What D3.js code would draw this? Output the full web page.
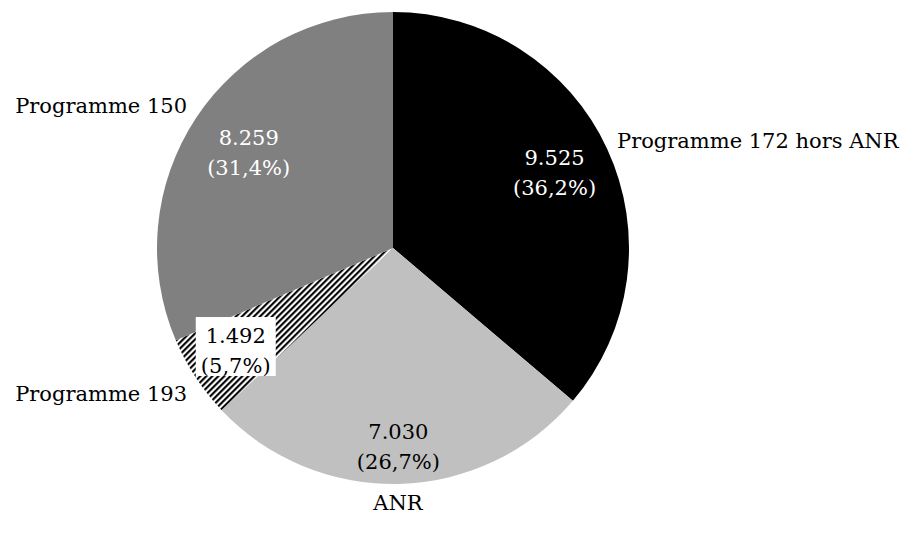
<html>
<head>
<title>pie</title>
<script src="https://cdnjs.cloudflare.com/ajax/libs/d3/7.8.5/d3.min.js"></script>
<style>
  body { margin: 0; background: #fff; }
  text { font-family: "DejaVu Serif", serif; font-size: 21px; }
</style>
</head>
<body>
<div id="vis_container"></div>
<script>

    // data (clockwise from 12 o'clock)
    var categories = ["Programme 172 hors ANR", "ANR", "Programme 193", "Programme 150"];
    var values = [9525, 7030, 1492, 8259];
    var valueLabels = ["9.525", "7.030", "1.492", "8.259"];
    var percentLabels = ["(36,2%)", "(26,7%)", "(5,7%)", "(31,4%)"];

    var width = 912, height = 533;
    var cx = 393, cy = 248, radius = 236;

    // fills and label layout (not data)
    var fills = ["#000000", "#c0c0c0", "url(#hatch)", "#808080"];
    var textColors = ["#fff", "#000", "#000", "#fff"];
    var valueRadius = [178, 199, 188, 173];
    var catAnchor = ["start", "middle", "end", "end"];
    // anchor points for category labels, as the original placed them
    var catXY = [[617, 148], [398, 510], [187, 401], [187, 113]];

    var svg = d3.select("#vis_container")
        .append("svg")
        .attr("width", width)
        .attr("height", height);

    var step = 6 / Math.SQRT2;
    var pat = svg.append("defs").append("pattern")
        .attr("id", "hatch")
        .attr("patternUnits", "userSpaceOnUse")
        .attr("width", step)
        .attr("height", step)
        .attr("patternTransform", "rotate(45)");
    pat.append("rect").attr("width", step).attr("height", step).attr("fill", "#fff");
    pat.append("rect").attr("width", step / 2).attr("height", step).attr("fill", "#000");

    var pie = d3.pie().sort(null).value(function(d) { return d; });
    var arcs = pie(values);
    var arc = d3.arc().innerRadius(0).outerRadius(radius);

    var g = svg.append("g").attr("transform", "translate(" + cx + "," + cy + ")");

    g.selectAll("path.slice")
        .data(arcs)
        .enter().append("path")
        .attr("class", "slice")
        .attr("d", arc)
        .attr("fill", function(d, i) { return fills[i]; });

    function mid(d) { return (d.startAngle + d.endAngle) / 2; }

    var lab = g.selectAll("g.vlab")
        .data(arcs)
        .enter().append("g")
        .attr("class", "vlab")
        .attr("transform", function(d, i) {
            var a = mid(d), r = valueRadius[i];
            return "translate(" + (Math.sin(a) * r) + "," + (-Math.cos(a) * r) + ")";
        });

    // white box behind the small slice label
    lab.filter(function(d, i) { return i === 2; })
        .append("rect")
        .attr("x", -40).attr("y", -34)
        .attr("width", 80).attr("height", 59)
        .attr("fill", "#fff");

    lab.append("text")
        .attr("text-anchor", "middle")
        .attr("y", -8)
        .attr("fill", function(d, i) { return textColors[i]; })
        .text(function(d, i) { return valueLabels[i]; });

    lab.append("text")
        .attr("text-anchor", "middle")
        .attr("y", 22)
        .attr("fill", function(d, i) { return textColors[i]; })
        .text(function(d, i) { return percentLabels[i]; });

    svg.selectAll("text.cat")
        .data(categories)
        .enter().append("text")
        .attr("class", "cat")
        .attr("x", function(d, i) { return catXY[i][0]; })
        .attr("y", function(d, i) { return catXY[i][1]; })
        .attr("text-anchor", function(d, i) { return catAnchor[i]; })
        .attr("fill", "#000")
        .text(function(d) { return d; });

</script>
</body>
</html>
